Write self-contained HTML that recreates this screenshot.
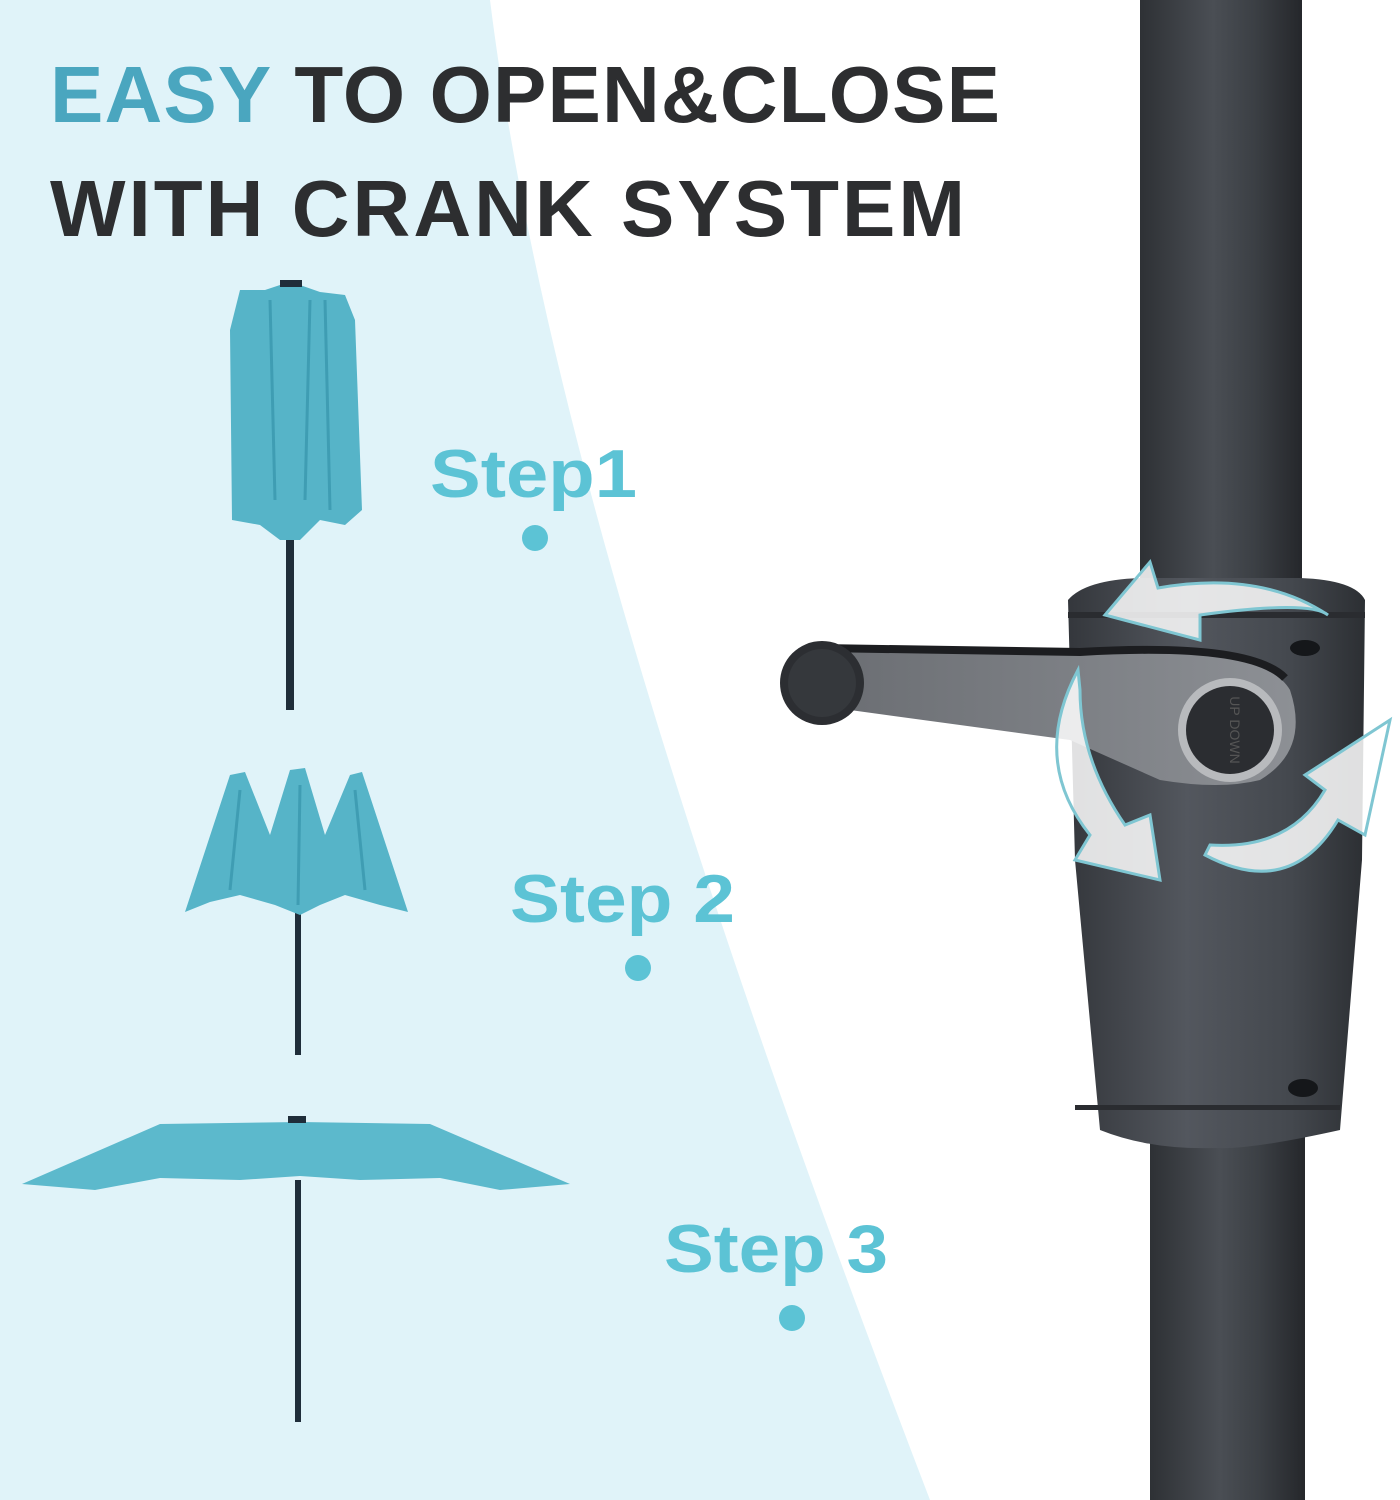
<!DOCTYPE html>
<html><head><meta charset="utf-8"><style>
html,body{margin:0;padding:0;background:#fff}
svg{display:block}
</style></head><body>
<svg width="1400" height="1500" viewBox="0 0 1400 1500" xmlns="http://www.w3.org/2000/svg">
<defs>
<linearGradient id="pole" x1="0" x2="1" y1="0" y2="0">
<stop offset="0" stop-color="#2e3135"/><stop offset="0.45" stop-color="#4a4e54"/><stop offset="0.7" stop-color="#3c4045"/><stop offset="1" stop-color="#25272b"/>
</linearGradient>
<linearGradient id="house" x1="0" x2="1" y1="0" y2="0">
<stop offset="0" stop-color="#34373c"/><stop offset="0.4" stop-color="#53575e"/><stop offset="0.75" stop-color="#44484e"/><stop offset="1" stop-color="#2c2f33"/>
</linearGradient>
<linearGradient id="arm" x1="0" x2="1" y1="0" y2="0">
<stop offset="0" stop-color="#6a6d72"/><stop offset="1" stop-color="#8d9095"/>
</linearGradient>
</defs>
<rect width="1400" height="1500" fill="#fff"/>
<path d="M0 0 L490 0 C540 400 700 900 930 1500 L0 1500 Z" fill="#e0f3f9"/>

<text x="50" y="122" textLength="950" lengthAdjust="spacing" font-family="Liberation Sans, sans-serif" font-weight="bold" font-size="80" fill="#2d2e30"><tspan fill="#4aa6bf">EASY</tspan> TO OPEN&amp;CLOSE</text>
<text x="50" y="236" textLength="915" lengthAdjust="spacing" font-family="Liberation Sans, sans-serif" font-weight="bold" font-size="80" fill="#2d2e30">WITH CRANK SYSTEM</text>

<!-- Umbrella 1 (closed) -->
<rect x="286" y="500" width="8" height="210" fill="#1f2d3a"/>
<path d="M240 290 L265 290 L280 285 L300 285 L320 292 L345 295 L355 320 L362 510 L345 525 L320 520 L300 540 L280 540 L260 525 L232 520 L230 330 Z" fill="#56b4c8"/>
<path d="M270 300 L275 500 M310 300 L305 500 M325 300 L330 510" stroke="#3f9db3" stroke-width="3" fill="none"/>
<rect x="280" y="280" width="22" height="7" fill="#1f2d3a"/>

<!-- Umbrella 2 -->
<rect x="295" y="900" width="6" height="155" fill="#1f2d3a"/>
<path d="M185 912 L230 775 L245 772 L270 835 L290 770 L305 768 L325 835 L350 775 L362 772 L408 912 L380 905 L345 895 L320 905 L300 915 L275 905 L240 895 L210 902 Z" fill="#56b4c8"/>
<path d="M240 790 L230 890 M300 785 L298 905 M355 790 L365 890" stroke="#3f9db3" stroke-width="3" fill="none"/>

<!-- Umbrella 3 -->
<rect x="295" y="1180" width="6" height="242" fill="#1f2d3a"/>
<path d="M22 1184 L160 1124 L300 1122 L430 1124 L570 1184 L500 1190 L440 1178 L360 1180 L300 1176 L240 1180 L160 1178 L95 1190 Z" fill="#5cb9cc"/>
<rect x="288" y="1116" width="18" height="7" fill="#1f2d3a"/>

<!-- Step labels -->
<g font-family="Liberation Sans, sans-serif" font-weight="bold" font-size="68" fill="#5cc3d5">
<text x="430" y="497" textLength="207" lengthAdjust="spacingAndGlyphs">Step1</text>
<text x="510" y="922" textLength="225" lengthAdjust="spacingAndGlyphs">Step 2</text>
<text x="664" y="1272" textLength="224" lengthAdjust="spacingAndGlyphs">Step 3</text>
</g>
<circle cx="535" cy="538" r="13" fill="#5cc3d5"/>
<circle cx="638" cy="968" r="13" fill="#5cc3d5"/>
<circle cx="792" cy="1318" r="13" fill="#5cc3d5"/>

<!-- Pole -->
<rect x="1140" y="0" width="162" height="620" fill="url(#pole)"/>
<rect x="1150" y="1120" width="155" height="380" fill="url(#pole)"/>
<!-- Housing -->
<path d="M1068 600 Q1085 580 1140 578 L1300 578 Q1355 580 1365 600 L1362 860 L1340 1130 Q1250 1150 1215 1148 Q1150 1150 1100 1130 L1075 860 Z" fill="url(#house)"/>
<rect x="1068" y="612" width="297" height="6" fill="#2a2c30"/>
<rect x="1075" y="1105" width="265" height="5" fill="#2a2c30"/>
<ellipse cx="1303" cy="1088" rx="15" ry="9" fill="#15171a"/>
<ellipse cx="1305" cy="648" rx="15" ry="8" fill="#15171a"/>
<!-- Arm -->
<path d="M820 650 L1080 652 Q1260 640 1290 690 Q1310 750 1260 780 Q1220 790 1160 780 L1070 740 L850 710 Z" fill="url(#arm)"/>
<path d="M820 648 L1080 652 Q1250 642 1285 678" stroke="#1c1d20" stroke-width="8" fill="none"/>
<circle cx="822" cy="683" r="42" fill="#2c2e32"/>
<circle cx="822" cy="683" r="34" fill="#35383c"/>
<circle cx="1230" cy="730" r="52" fill="#b8babd"/>
<circle cx="1230" cy="730" r="44" fill="#2b2d31"/>
<text x="1230" y="730" font-family="Liberation Sans, sans-serif" font-size="14" fill="#555" text-anchor="middle" transform="rotate(90 1230 730)">UP DOWN</text>
<!-- Arrows -->
<g fill="rgba(255,255,255,0.85)" stroke="#7fc6d2" stroke-width="3">
<path d="M1105 615 L1150 562 L1158 588 Q1260 570 1328 615 Q1310 600 1200 615 L1200 640 Z"/>
<path d="M1078 670 Q1030 760 1090 835 L1075 860 L1160 880 L1150 815 L1125 825 Q1080 760 1080 690 Z"/>
<path d="M1205 855 Q1290 900 1338 820 L1365 835 L1390 720 L1305 775 L1325 790 Q1290 850 1210 845 Z"/>
</g>
</svg>
</body></html>
